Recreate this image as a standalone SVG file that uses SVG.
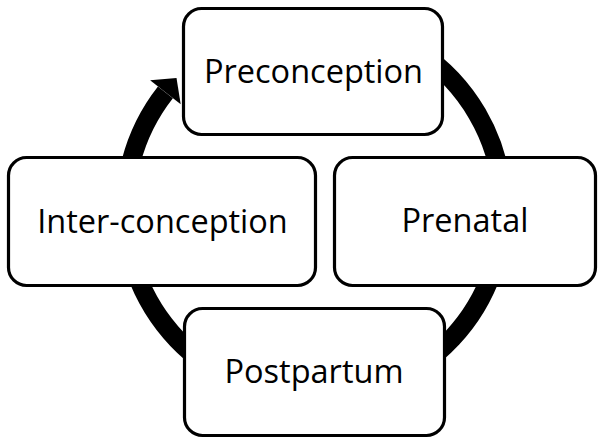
<svg xmlns="http://www.w3.org/2000/svg" width="604" height="447" viewBox="0 0 604 447">
<style>
.box{fill:#fff;stroke:#000;stroke-width:3.2}
.lbl{font-family:"Open Sans","Noto Sans",sans-serif;font-size:32.5px;fill:#000;text-anchor:middle}
.ring{fill:none;stroke:#000;stroke-width:19}
</style>
<rect width="604" height="447" fill="#fff"/>
<g id="connectors">
<path class="ring" d="M 346.8 22.9 A 189 189 0 1 1 165.4 92.3"/>
<polygon points="150.1,80.3 180.7,104.3 176.5,78.1" fill="#000"/>
</g>
<g id="preconception">
<rect class="box" x="183.5" y="8.5" width="259" height="126" rx="18"/>
<text class="lbl" x="313.5" y="83">Preconception</text>
</g>
<g id="prenatal">
<rect class="box" x="334.5" y="157.5" width="261" height="128" rx="18"/>
<text class="lbl" x="465" y="232">Prenatal</text>
</g>
<g id="postpartum">
<rect class="box" x="184.5" y="308.5" width="260" height="127" rx="18"/>
<text class="lbl" x="314" y="383">Postpartum</text>
</g>
<g id="inter-conception">
<rect class="box" x="8.5" y="157.5" width="307" height="128" rx="18"/>
<text class="lbl" x="162.5" y="233">Inter-conception</text>
</g>
</svg>
